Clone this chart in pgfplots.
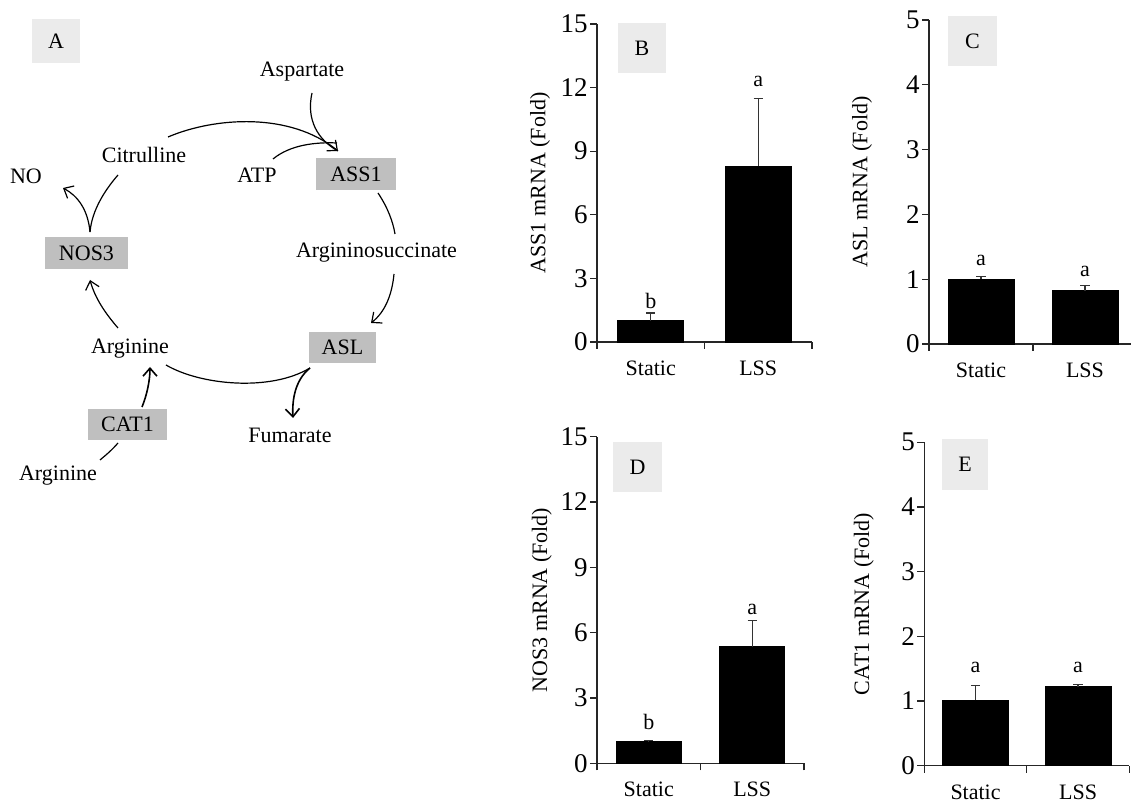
\documentclass[border=0pt]{standalone}
\usepackage{fontspec}
\setmainfont{Liberation Serif}
\usepackage{pgfplots}
\pgfplotsset{compat=1.18}
\usetikzlibrary{arrows.meta}
\newcommand{\fs}{\fontsize{11}{13}\selectfont}
\newcommand{\fst}{\fontsize{13.5}{15}\selectfont}
\tikzset{lettr/.style={anchor=base, inner sep=0pt, font=\fs}}
\pgfplotsset{
 panel/.style={
  scale only axis, anchor=south west, clip=false,
  xmin=0, xmax=2, ymin=0,
  axis x line=bottom, axis y line=left,
  axis line style={-, line width=0.6pt, draw=black!85},
  tick align=outside, major tick length=3.5pt,
  every tick/.style={line width=0.6pt, draw=black!85},
  xtick={0,1,2}, xticklabels={},
  extra x ticks={0.5,1.5}, extra x tick labels={Static,LSS},
  extra x tick style={major tick length=0pt, xticklabel style={yshift=-6pt}},
  xticklabel style={font=\fs},
  yticklabel style={font=\fst, inner sep=1pt},
  /pgf/number format/assume math mode=true,
  ylabel style={anchor=center, font=\fs},
 },
 bars/.style={ybar, fill=black, draw=black,
  error bars/.cd, y dir=plus, y explicit,
  error bar style={line width=0.6pt, draw=black!80},
  error mark options={rotate=90, mark size=2.3pt, line width=0.6pt, draw=black!80}},
}
\begin{document}
\begin{tikzpicture}
\path[use as bounding box] (0,0) rectangle (565.5pt,400.5pt);

% Panel B
\begin{axis}[panel, at={(298.5pt,229.5pt)}, width=107.5pt, height=159pt,
  ymax=15, ytick={0,3,...,15},
  ylabel={ASS1 mRNA (Fold)}, ylabel style={at={(axis description cs:-0.265,0.5)}}]
\addplot[bar width=33pt, bars] coordinates {(0.5,1.0) +- (0,0.37) (1.5,8.3) +- (0,3.2)};
\node[lettr] at (axis cs:0.5,1.60) {b};
\node[lettr] at (axis cs:1.5,12.04) {a};
\end{axis}

% Panel C
\begin{axis}[panel, at={(464.5pt,228.5pt)}, width=104pt, height=162pt,
  ymax=5, ytick={0,1,...,5},
  ylabel={ASL mRNA (Fold)}, ylabel style={at={(axis description cs:-0.322,0.5)}}]
\addplot[bar width=33pt, bars] coordinates {(0.5,1.0) +- (0,0.04) (1.5,0.82) +- (0,0.08)};
\node[lettr] at (axis cs:0.5,1.21) {a};
\node[lettr] at (axis cs:1.5,1.04) {a};
\end{axis}

% Panel D
\begin{axis}[panel, at={(298.5pt,18.85pt)}, width=103.5pt, height=163.3pt,
  ymax=15, ytick={0,3,...,15},
  ylabel={NOS3 mRNA (Fold)}, ylabel style={at={(axis description cs:-0.267,0.5)}}]
\addplot[bar width=32.5pt, bars] coordinates {(0.5,0.99) +- (0,0.06) (1.5,5.36) +- (0,1.21)};
\node[lettr] at (axis cs:0.5,1.53) {b};
\node[lettr] at (axis cs:1.5,6.84) {a};
\end{axis}

% Panel E
\begin{axis}[panel, at={(462.15pt,17.65pt)}, width=102.5pt, height=161.7pt,
  ymax=5, ytick={0,1,...,5},
  ylabel={CAT1 mRNA (Fold)}, ylabel style={at={(axis description cs:-0.295,0.5)}}]
\addplot[bar width=33pt, bars] coordinates {(0.5,1.01) +- (0,0.23) (1.5,1.22) +- (0,0.04)};
\node[lettr] at (axis cs:0.5,1.44) {a};
\node[lettr] at (axis cs:1.5,1.44) {a};
\end{axis}

% Pathway diagram and panel label boxes (pixel coordinates)
\begin{scope}[shift={(0pt,400.5pt)}, x=0.5pt, y=-0.5pt, line width=0.6pt]
 \tikzset{lab/.style={font=\fs, inner sep=0pt, anchor=base},
          arr/.style={-{Straight Barb[length=4pt,width=7pt]}}}
 % panel label boxes
 \fill[black!8] (32,19) rectangle (80,63);   \node[font=\fs] at (56,41) {A};
 \fill[black!8] (618,23) rectangle (666,73); \node[font=\fs] at (642,48) {B};
 \fill[black!8] (948,16) rectangle (997,66); \node[font=\fs] at (972.5,41) {C};
 \fill[black!8] (613,442) rectangle (662,492); \node[font=\fs] at (637.5,467) {D};
 \fill[black!8] (942,439) rectangle (988,490); \node[font=\fs] at (965,464.5) {E};
 % enzyme boxes
 \fill[black!25] (316,158) rectangle (396,190); \node[font=\fs] at (356,174) {ASS1};
 \fill[black!25] (45,237) rectangle (128,269);  \node[font=\fs] at (86.5,253) {NOS3};
 \fill[black!25] (309,332) rectangle (376,363); \node[font=\fs] at (342.5,347.5) {ASL};
 \fill[black!25] (88,409) rectangle (167,440);  \node[font=\fs] at (127.5,424.5) {CAT1};
 % metabolites
 \node[lab] at (302,77) {Aspartate};
 \node[lab] at (144,163) {Citrulline};
 \node[lab] at (26,184) {NO};
 \node[lab] at (257,183) {ATP};
 \node[lab] at (376.5,258) {Argininosuccinate};
 \node[lab] at (130,354) {Arginine};
 \node[lab] at (290,443) {Fumarate};
 \node[lab] at (58,481) {Arginine};
 % arrows
 \draw[arr] (168,137) .. controls (215,117) and (290,112) .. (338,151);
 \draw (312,93) .. controls (306,120) and (318,140) .. (338,151);
 \draw (273,159) .. controls (290,145) and (315,142) .. (337,143);
 \draw (378,193) .. controls (388,208) and (393,222) .. (395,234);
 \draw[arr] (394,274) .. controls (392,295) and (385,312) .. (371,323);
 \draw (166,365) .. controls (200,385) and (270,392) .. (310,368);
 \draw[arr, line width=0.8pt] (310,368) .. controls (295,380) and (292,400) .. (293,418);
 \draw[arr] (118,328) .. controls (105,313) and (95,298) .. (90,280);
 \draw (90,232) .. controls (92,210) and (105,190) .. (118,175);
 \draw[arr] (90,232) .. controls (88,210) and (78,196) .. (63,188);
 \draw (118,443) .. controls (112,450) and (106,455) .. (100,460);
 \draw[arr, line width=0.8pt] (142,407) .. controls (147,395) and (150,380) .. (150,367);
\end{scope}
\end{tikzpicture}
\end{document}
